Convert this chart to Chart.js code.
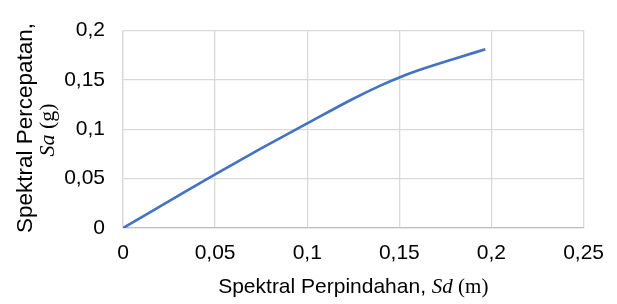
<!DOCTYPE html>
<html><head><meta charset="utf-8">
<script src="https://cdn.jsdelivr.net/npm/chart.js@4/dist/chart.umd.min.js"></script>
<style>html,body{margin:0;padding:0;background:#fff}#wrap{width:617px;height:304px;position:relative}</style>
</head><body><div id="wrap"><canvas id="c"></canvas></div>
<script>
// Data
const sdValues = [0, 0.025, 0.05, 0.075, 0.1, 0.125, 0.14, 0.15, 0.16, 0.18, 0.1967];
const saValues = [0, 0.0272, 0.0544, 0.0806, 0.106, 0.131, 0.1445, 0.1525, 0.1595, 0.1715, 0.1811];
const xTickLabels = ['0', '0,05', '0,1', '0,15', '0,2', '0,25'];
const yTickLabels = ['0', '0,05', '0,1', '0,15', '0,2'];
const xTitle = [['Spektral Perpindahan, ', 'sans'], ['Sd', 'italic'], [' (m)', 'serif']];
const yTitleLine1 = 'Spektral Percepatan,';
const yTitleLine2 = [['Sa', 'italic'], [' (g)', 'serif']];

const points = sdValues.map((x, i) => ({x: x, y: saValues[i]}));

function fontFor(kind, size) {
  if (kind === 'sans') return size + 'px "Liberation Sans", Arial, sans-serif';
  if (kind === 'italic') return 'italic ' + size + 'px "Liberation Serif", "Times New Roman", serif';
  return size + 'px "Liberation Serif", "Times New Roman", serif';
}
function drawParts(ctx, parts, cx, cy, size) {
  let total = 0;
  parts.forEach(p => { ctx.font = fontFor(p[1], size); total += ctx.measureText(p[0]).width; });
  let x = cx - total / 2;
  parts.forEach(p => {
    ctx.font = fontFor(p[1], size);
    ctx.fillText(p[0], x, cy);
    x += ctx.measureText(p[0]).width;
  });
}

const titlePlugin = {
  id: 'titles',
  afterDraw(chart) {
    const ctx = chart.ctx;
    const area = chart.chartArea;
    ctx.save();
    ctx.fillStyle = '#000';
    ctx.textAlign = 'left';
    ctx.textBaseline = 'alphabetic';
    drawParts(ctx, xTitle, (area.left + area.right) / 2, 293, 21);
    ctx.save();
    ctx.translate(26, 128);
    ctx.rotate(-Math.PI / 2);
    ctx.textBaseline = 'middle';
    drawParts(ctx, [[yTitleLine1, 'sans']], 0, 0, 22.5);
    ctx.restore();
    ctx.save();
    ctx.translate(48, 130);
    ctx.rotate(-Math.PI / 2);
    ctx.textBaseline = 'middle';
    drawParts(ctx, yTitleLine2, 0, 0, 22);
    ctx.restore();
    ctx.restore();
  }
};

new Chart(document.getElementById('c'), {
  type: 'scatter',
  data: {
    datasets: [{
      data: points,
      showLine: true,
      borderColor: '#4472c4',
      borderWidth: 2.7,
      pointRadius: 0,
      cubicInterpolationMode: 'monotone',
      fill: false
    }]
  },
  options: {
    responsive: true,
    maintainAspectRatio: false,
    animation: false,
    layout: {padding: {left: 0, top: 16, right: 33, bottom: 0}},
    plugins: {legend: {display: false}, tooltip: {enabled: false}, title: {display: false}},
    scales: {
      x: {
        type: 'linear', min: 0, max: 0.25,
        afterFit(s) { s.height = 76; },
        grid: {color: '#d9d9d9', lineWidth: 1.3, drawTicks: false},
        border: {display: true, color: '#bfbfbf', width: 1.3},
        ticks: {
          stepSize: 0.05, padding: 13, color: '#000',
          font: {family: '"Liberation Sans", Arial, sans-serif', size: 21},
          maxRotation: 0,
          callback: (v, i) => xTickLabels[i]
        }
      },
      y: {
        type: 'linear', min: 0, max: 0.2,
        afterFit(s) { s.width = 123; },
        grid: {color: '#d9d9d9', lineWidth: 1.3, drawTicks: false},
        border: {display: true, color: '#d9d9d9', width: 1.3},
        ticks: {
          stepSize: 0.05, padding: 18, color: '#000',
          font: {family: '"Liberation Sans", Arial, sans-serif', size: 21},
          callback: (v, i) => yTickLabels[i]
        }
      }
    }
  },
  plugins: [titlePlugin]
});
</script>
</body></html>
